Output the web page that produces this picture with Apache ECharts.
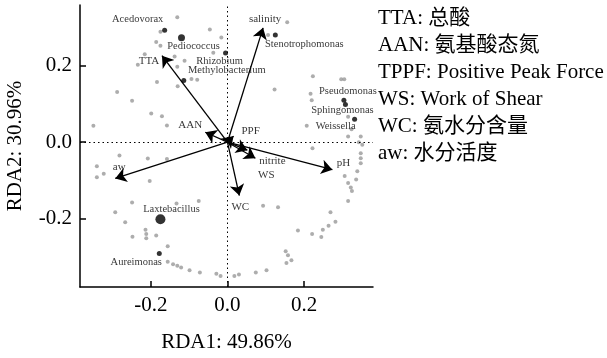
<!DOCTYPE html>
<html><head><meta charset="utf-8">
<script src="https://cdn.jsdelivr.net/npm/echarts@6/dist/echarts.min.js"></script>
<style>html,body{margin:0;padding:0;background:#fff}#c{width:607px;height:358px}</style>
</head><body><div id="c"></div>
<script>
// ---- data ----
const xTickValues = [-0.2, 0.0, 0.2];
const yTickValues = [-0.2, 0.0, 0.2];
const xAxisTitle = 'RDA1: 49.86%';
const yAxisTitle = 'RDA2: 30.96%';

// gray sample / species points [RDA1, RDA2]
const grayPoints = [
  [-0.131,0.328],[-0.175,0.290],[-0.186,0.263],[-0.175,0.253],[-0.216,0.231],[-0.234,0.203],
  [-0.138,0.225],[-0.112,0.214],[-0.131,0.198],[-0.046,0.296],[-0.016,0.275],[-0.037,0.235],
  [-0.184,0.158],[-0.130,0.147],[-0.094,0.166],[-0.079,0.164],[-0.288,0.132],[-0.249,0.109],
  [-0.199,0.075],[-0.171,0.068],[-0.158,0.044],[-0.350,0.043],
  [0.156,0.315],[0.106,0.281],[0.123,0.138],[0.223,0.173],[0.297,0.165],[0.305,0.165],
  [0.217,0.127],[0.220,0.110],[0.315,0.067],[0.207,0.043],[0.324,0.034],[0.315,0.015],
  [0.348,0.015],[0.343,0.000],[0.352,-0.007],
  [0.222,-0.016],[0.348,-0.029],[0.348,-0.042],[0.348,-0.055],[0.339,-0.076],[0.306,-0.089],
  [0.336,-0.098],[0.315,-0.107],[0.322,-0.119],[0.325,-0.128],[0.315,-0.154],[0.269,-0.184],
  [0.282,-0.209],[0.264,-0.219],[0.249,-0.230],[0.221,-0.241],[0.245,-0.249],[0.184,-0.232],
  [0.093,-0.167],[0.132,-0.171],[0.152,-0.286],[0.158,-0.297],[0.167,-0.310],[0.154,-0.317],
  [0.102,-0.336],[0.074,-0.342],[0.030,-0.347],[0.018,-0.351],[-0.018,-0.351],[-0.029,-0.345],
  [-0.282,-0.035],[-0.208,-0.043],[-0.158,-0.044],[-0.341,-0.063],[-0.323,-0.083],[-0.341,-0.092],
  [-0.203,-0.102],[-0.249,-0.158],[-0.133,-0.161],[-0.075,-0.154],[-0.293,-0.184],[-0.267,-0.210],
  [-0.214,-0.230],[-0.212,-0.241],[-0.212,-0.252],[-0.248,-0.248],[-0.186,-0.245],[-0.156,-0.273],
  [-0.156,-0.314],[-0.142,-0.320],[-0.131,-0.324],[-0.121,-0.329],[-0.099,-0.336],[-0.072,-0.342]
];

// labelled genera
const genusNames = ['Acedovorax','Pediococcus','Rhizobium','Methylobacterium','Stenotrophomonas',
  'Pseudomonas','Sphingomonas','Weissella','Laxtebacillus','Aureimonas'];
const genusX = [-0.164,-0.120,-0.005,-0.114,0.125,0.304,0.308,0.332,-0.175,-0.178];
const genusY = [0.294,0.274,0.234,0.162,0.281,0.110,0.099,0.060,-0.202,-0.292];
const genusSize = [5,7,5,5,5,5,5,5,10,5];
const genusLabelOffset = [[-27,-11],[12,8],[-6,8],[43,-10],[29,9],[4,-9],[-3,6],[-19,7],[11,-10],[-23,9]];

// environmental factor arrows (tips)
const envNames = ['TTA','salinity','AAN','PPF','nitrite','WS','pH','WC','aw'];
const envX = [-0.171,0.093,-0.058,0.016,0.073,0.052,0.274,0.031,-0.293];
const envY = [0.227,0.300,0.026,0.016,-0.042,-0.021,-0.072,-0.140,-0.095];
const envLabelOffset = [[-13,5],[2,-9],[-15,-7],[17,-5],[17,3],[19,25],[11,-7],[1,12],[4,-11]];

const noteLines = ['TTA: 总酸','AAN: 氨基酸态氮','TPPF: Positive Peak Force','WS: Work of Shear','WC: 氨水分含量','aw: 水分活度'];

// ---- chart ----
const serif = '"Liberation Serif","Times New Roman",serif';
const chart = echarts.init(document.getElementById('c'));
const fmt = v => v.toFixed(1);
chart.setOption({
  animation: false,
  backgroundColor: '#fff',
  grid: { left: 80, right: 234, top: 5, bottom: 68, containLabel: false },
  xAxis: {
    type: 'value', min: -0.385, max: 0.38,
    name: xAxisTitle, nameLocation: 'middle', nameGap: 45,
    nameTextStyle: { fontFamily: serif, fontSize: 21, color: '#000' },
    axisLine: { show: true, onZero: false, lineStyle: { color: '#000', width: 1.5 } },
    axisTick: { show: true, inside: true, length: 6, customValues: xTickValues, lineStyle: { color: '#000', width: 1.5 } },
    axisLabel: { customValues: xTickValues, formatter: fmt, fontFamily: serif, fontSize: 21, color: '#000', margin: 8 },
    splitLine: { show: false }
  },
  yAxis: {
    type: 'value', min: -0.38, max: 0.36,
    name: yAxisTitle, nameLocation: 'middle', nameGap: 54, nameRotate: 90,
    nameTextStyle: { fontFamily: serif, fontSize: 21, color: '#000' },
    axisLine: { show: true, onZero: false, lineStyle: { color: '#000', width: 1.5 } },
    axisTick: { show: true, inside: true, length: 6, customValues: yTickValues, lineStyle: { color: '#000', width: 1.5 } },
    axisLabel: { customValues: yTickValues, formatter: fmt, fontFamily: serif, fontSize: 21, color: '#000', margin: 8 },
    splitLine: { show: false }
  },
  series: [
    {
      type: 'scatter', data: grayPoints, symbolSize: 4, silent: true,
      itemStyle: { color: '#999' }, z: 2,
      markLine: {
        silent: true, symbol: 'none', label: { show: false },
        lineStyle: { type: [1.5, 3], color: '#000', width: 1 },
        data: [{ xAxis: 0 }, { yAxis: 0 }]
      }
    },
    {
      type: 'lines', coordinateSystem: 'cartesian2d', silent: true, z: 4,
      symbol: ['none', 'arrow'], symbolSize: [6, 11],
      lineStyle: { color: '#000', width: 1.3, opacity: 1 },
      data: envNames.map((n, i) => ({ coords: [[0, 0], [envX[i], envY[i]]] }))
    },
    {
      type: 'scatter', symbolSize: 0, silent: true, z: 5,
      data: envNames.map((n, i) => ({
        value: [envX[i], envY[i]], name: n,
        label: { show: true, position: 'inside', offset: envLabelOffset[i], formatter: n,
          fontFamily: serif, fontSize: 11, color: '#000' }
      }))
    },
    {
      type: 'scatter', silent: true, z: 6,
      itemStyle: { color: '#000' },
      data: genusNames.map((n, i) => ({
        value: [genusX[i], genusY[i]], name: n, symbolSize: genusSize[i],
        label: { show: true, position: 'inside', offset: genusLabelOffset[i], formatter: n,
          fontFamily: serif, fontSize: 10.5, color: '#000' }
      }))
    }
  ],
  graphic: [{
    type: 'text', left: 378, top: 5, silent: true,
    style: { text: noteLines.join('\n'), font: '21px "Liberation Serif","Noto Sans CJK SC",serif',
      lineHeight: 27, fill: '#000' }
  }]
});
</script>
</body></html>
